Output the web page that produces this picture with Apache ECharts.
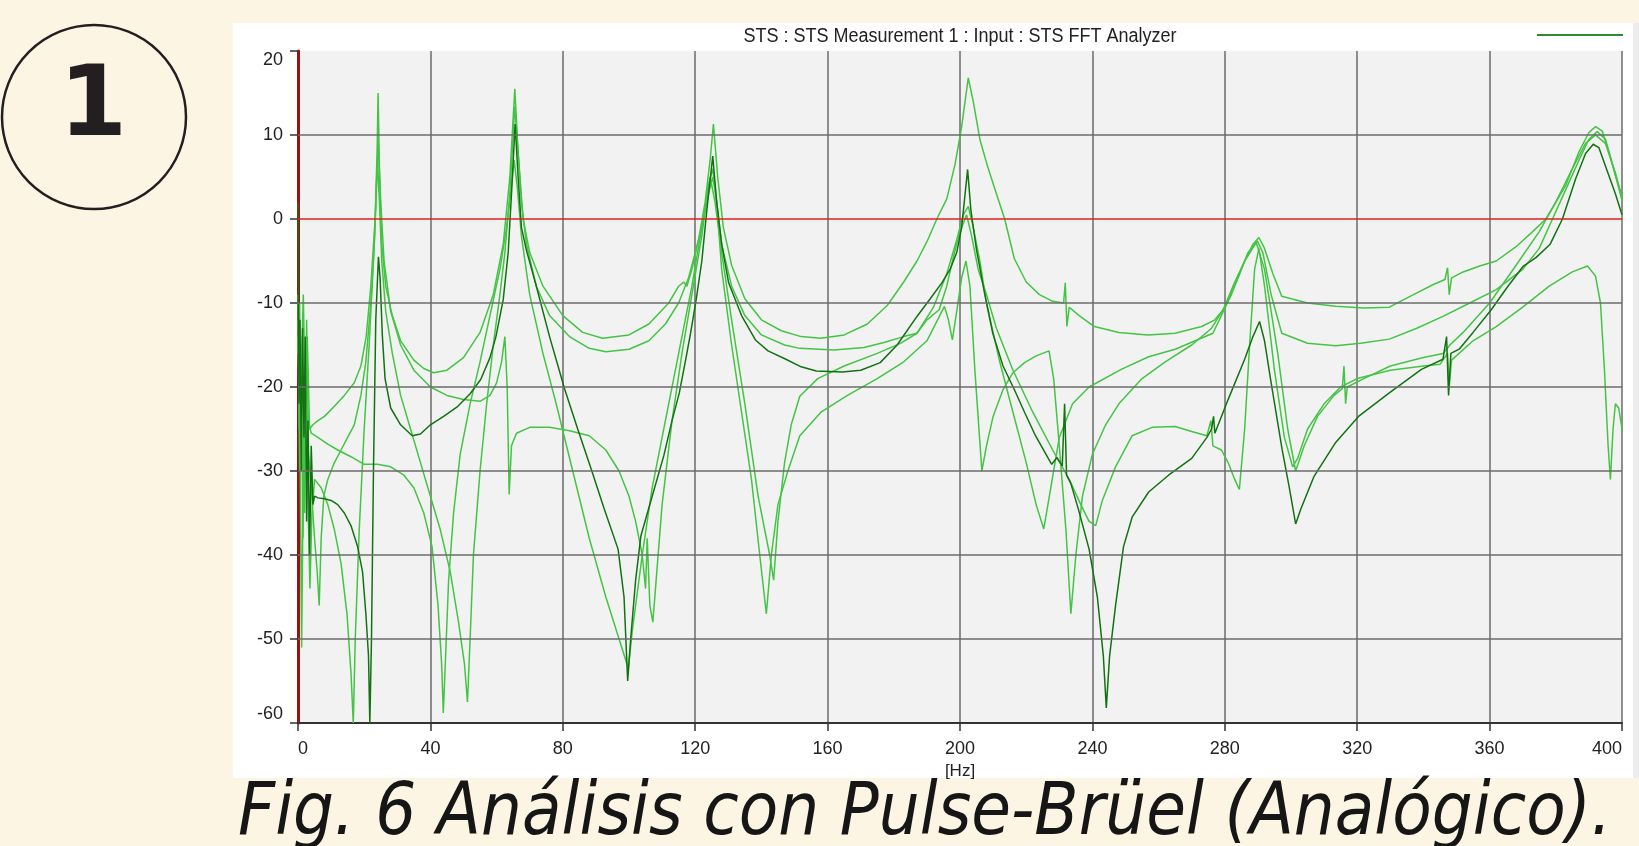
<!DOCTYPE html>
<html>
<head>
<meta charset="utf-8">
<script src="https://cdn.jsdelivr.net/npm/echarts/dist/echarts.min.js"></script>
<style>
html,body{margin:0;padding:0;background:#fdf5e3;}
#chart{width:1639px;height:846px;}
</style>
</head>
<body>
<div id="chart"></div>
<script>
const titleText = 'STS : STS Measurement 1 : Input : STS FFT Analyzer';
const captionText = 'Fig. 6 Análisis con Pulse-Brüel (Analógico).';
const badgeText = '1';
const xUnit = '[Hz]';
const hGridValues = [-50, -40, -30, -20, -10, 10];
const zeroLine = 0;

const curveA = [[0,-12],[0.5,-30],[1,-18],[1.6,-9],[2.2,-22],[2.8,-14],[3.5,-25],[4.5,-24.5],[6,-24],[8,-23.5],[11,-22.3],[14,-21],[17,-19.5],[19,-17.5],[20.6,-14],[22,-8],[23.3,0],[23.9,8],[24.2,15],[24.6,6],[25.3,-3],[26.5,-8],[28.5,-11.5],[31,-14.5],[35,-16.8],[38,-17.8],[41,-18.3],[45,-18],[50,-16.5],[55,-13.5],[59,-9],[62,-3],[64,5],[65.5,15.5],[66.5,8],[68,0],[70,-4],[74,-8],[80,-11.5],[86,-13.5],[92,-14.2],[100,-13.8],[106,-12.5],[112,-10],[115,-8],[116.5,-7.5],[117.5,-8],[119,-6],[121,-2.5],[123,2],[124.5,7],[125.5,11.3],[126.8,5],[128.5,-1],[131,-5.5],[135,-9.5],[140,-12],[146,-13.3],[152,-14],[158,-14.2],[165,-13.8],[172,-12.5],[178,-10.3],[183,-7.5],[187,-5],[190,-2.7],[193,0],[196,2.4],[198.5,6.5],[200.5,11],[202.5,16.8],[204,14],[206,9.5],[208.3,6.3],[211,3],[213.5,0],[216.4,-4.7],[220,-7.5],[224,-9],[228,-9.8],[231.3,-10],[231.8,-7.6],[232.3,-12.8],[233,-10.5],[236,-11.5],[240.6,-12.8],[248,-13.5],[256.8,-13.8],[265,-13.6],[273,-12.8],[277,-12],[279.5,-10.8],[283,-7.5],[286,-5],[288.5,-3],[290.3,-2.2],[292,-3.5],[294.5,-6.5],[297.2,-9.2],[305,-10],[313.5,-10.4],[322,-10.6],[329.7,-10.5],[337,-9],[343,-7.8],[346.5,-7.2],[347.3,-5.8],[347.8,-9],[348.5,-7],[352,-6.3],[357,-5.6],[362,-5],[368,-3.3],[373,-1.5],[377,0],[383,4],[387,8],[390,10.3],[392,11],[394,10.5],[396,8],[398,5.2],[400,2.7]];

const curveB = [[0,-9],[0.4,-25],[0.9,-15],[1.5,-38],[2,-20],[2.8,-30],[3.6,-44],[4.2,-35],[5,-31],[7,-32],[9,-34],[11,-37],[13,-41],[14.8,-47],[16,-54],[16.7,-60],[17.3,-50],[18.5,-37],[20,-25],[21.5,-15],[22.8,-5],[23.6,3],[24.2,9.5],[25,2],[26,-5],[28,-11],[31,-15],[35,-18],[40,-20],[45,-21],[50,-21.5],[55,-21.7],[58,-21],[60,-19.5],[61.5,-17],[62.5,-14],[63.2,-20],[63.8,-32.8],[64.5,-27],[66,-25.5],[70,-24.8],[76,-24.8],[82,-25.2],[88,-25.8],[93,-27.5],[97,-30],[100,-33],[102,-36],[104,-40],[105,-44],[105.5,-38],[106.3,-46],[107.2,-48],[108,-44],[110,-34],[113,-24],[116,-16],[119,-9],[122,-2],[124,4],[125.3,6],[126.5,2],[128,-6],[131,-15],[134,-23],[137,-31],[139.5,-40],[141.5,-47],[143,-40],[145,-34],[148,-30],[151.6,-25.8],[158,-23],[166,-21],[175,-19],[183,-17],[190,-14.5],[195.3,-10.4],[196.5,-12],[197.7,-14.4],[199,-11],[200.5,-7],[201.8,-5],[203,-8],[204.5,-18],[206.6,-30],[208,-27],[210,-23.5],[213,-20.3],[216,-18.3],[219.5,-17.1],[223,-16.3],[226.9,-15.7],[228.3,-19],[230,-27],[232,-37],[233.5,-47],[235,-40],[237,-33],[240,-28],[244,-24.5],[248,-22],[255,-19],[262,-17],[270,-15],[276,-13],[280,-10.5],[284,-7],[287,-4],[289.8,-2.6],[291.5,-4],[294,-9],[297.2,-13.6],[305,-14.8],[313.5,-15.1],[321,-14.8],[329.7,-14.3],[338,-13],[345.9,-11.6],[354,-10],[362,-8.4],[370,-6],[375,-3.5],[379,0],[383,3.5],[387,7],[390,9.5],[392.5,10.4],[395,9.5],[397.5,6],[400,2.2]];

const curveC = [[0,-14],[0.5,-22],[1.1,-51],[1.6,-30],[2.2,-18],[3,-24],[4,-25.5],[6,-26],[9,-26.8],[12,-27.5],[16,-28.3],[20,-29.2],[24,-29.2],[28,-29.5],[32,-30.5],[35,-32],[38,-35],[40.5,-39],[42.3,-46],[43.4,-53],[43.9,-58.8],[44.6,-52],[45.5,-43],[47,-35],[49,-28],[52,-22],[55,-17],[58,-11.5],[61,-6],[63,-1],[64.5,4],[65.3,7],[66.2,4],[67.5,-2],[70,-9],[74,-16],[78,-22],[83,-30],[88,-38],[93,-45],[97,-50],[99.8,-53.5],[101,-49],[104,-40],[107,-32],[111,-24],[115,-16],[119,-8],[122,-1],[124.5,5],[126,2],[128,-4],[131,-12],[135,-22],[139,-33],[142.5,-40],[143.7,-43],[145,-36],[147,-29],[149,-24.5],[151.6,-21.1],[157,-19],[165,-17.5],[175,-16],[182,-14.8],[187,-13.6],[192,-10.5],[196,-6.5],[199,-2.5],[201,0.5],[202.5,1.5],[204,-1],[206,-5],[208,-10],[212,-17],[216,-23],[220,-29],[223,-34],[225.3,-36.9],[227,-33],[230,-26],[234,-22],[239,-20],[248.7,-17.9],[257,-16.4],[265,-15.5],[276.4,-13.6],[282,-9],[286,-5],[289.5,-2.8],[292,-6],[296,-16],[299,-25],[301.4,-30],[304,-27],[308,-23.5],[313,-21],[315.5,-20.2],[316,-17.5],[316.5,-22],[317,-20],[322,-19],[330,-17.5],[340,-16.5],[346,-16],[348,-15],[352,-13.5],[360,-10],[368,-5.5],[375,-1.5],[380,2],[385,6],[389,9],[392,10],[395,9],[398,5.5],[400,2.5]];

const curveE = [[0,-16],[0.5,-10],[0.8,-30],[1.3,-14],[2,-35],[2.6,-12],[3.2,-28],[4,-32],[5,-38],[5.8,-42],[6.4,-46],[7,-38],[7.8,-33],[9,-31],[11,-29],[13,-27.5],[15,-26],[17,-24.5],[19,-21],[20.5,-17],[22,-10],[23.2,-2],[24,7],[24.6,2],[25.3,-5],[26.5,-11],[28.5,-16],[31,-21],[34,-25],[37,-29],[40,-33],[43,-37],[46,-42],[48.5,-48],[50.3,-53],[51.2,-57.5],[52,-50],[53,-40],[55,-30],[57,-22],[59,-15],[61,-9],[62.5,-4],[64,3],[65.5,13.4],[66.5,8],[67.5,2],[69,-3],[72,-8],[76,-11.5],[82,-14],[88,-15.4],[93,-15.8],[100,-15.5],[106,-14.5],[111,-12.5],[115,-10],[118,-7],[120,-4],[122,-1],[124,3],[125.3,5],[126.5,2],[128,-3],[131,-8],[135,-11.5],[140,-13.8],[147,-15],[151.6,-15.4],[162,-15.6],[171,-15.3],[177,-14.7],[183,-14],[187,-13.6],[190,-12],[193.7,-10.8],[196,-8],[198,-4.5],[200,-1.5],[202,0.5],[203.5,-2],[205.5,-6],[208,-9],[211,-13],[216,-18],[222,-23],[228,-27.5],[233,-31],[236.5,-34],[239,-36],[241,-36.5],[243,-33.5],[247,-29.5],[252,-25.8],[258,-24.8],[265,-24.7],[270,-25.3],[274.6,-25.8],[275.8,-24],[276.4,-27],[279,-27.5],[281,-29],[283,-31],[284.4,-32.2],[286,-25],[287.5,-15],[289,-6],[290.3,-3.5],[292,-8],[295,-18],[298,-26],[300.5,-29.5],[302,-28.5],[305,-25],[310,-22],[315,-20],[320,-19],[330,-18],[340,-17.5],[345,-17.3],[347.3,-16],[347.8,-20],[348.5,-16.8],[355,-14.5],[362,-12.8],[370,-10.5],[378,-8],[385,-6.3],[389.6,-5.6],[392,-6.8],[393.5,-10],[394.7,-18],[395.8,-27],[396.5,-31],[397.3,-25],[398,-22],[399,-22.5],[400,-25]];

const curveD = [[0,2],[0.3,-22],[0.6,-12],[1,-30],[1.4,-13],[1.8,-26],[2.2,-14],[2.6,-36],[3,-24],[3.5,-40],[4,-27],[4.5,-34],[5,-33],[6,-33.2],[8,-33.3],[10,-33.5],[12,-34],[14,-35],[16,-36.5],[18,-39],[19.5,-42],[20.5,-47],[21.3,-52],[21.7,-60],[22.2,-50],[22.8,-30],[23.5,-12],[24.3,-4.5],[24.8,-7],[25.5,-14],[26.3,-19],[28,-22.5],[31,-24.5],[34.5,-25.8],[37,-25.6],[40,-24.5],[44,-23.5],[48.3,-22.3],[52,-20.8],[55.2,-19.1],[58,-16.5],[59.8,-14],[62,-9.6],[63.5,-4],[64.5,3],[65.6,11.3],[66.5,5],[67.5,-1],[69,-3.7],[72,-8],[76,-14],[80.6,-20.3],[84.5,-25],[88.6,-29.8],[92.5,-34.5],[96.7,-39.3],[98.5,-45],[99.6,-55],[100.5,-50],[102,-43],[103.6,-37.7],[107,-33],[110.5,-28.2],[113,-24],[115.2,-20.7],[117,-17],[118.6,-13.6],[120.3,-9.6],[122,-5],[123.5,1],[125.3,7.5],[126.5,2],[128,-3],[130.1,-7.6],[134,-11.5],[138.2,-14.4],[142,-15.7],[147.4,-16.7],[152,-17.6],[156.6,-18.1],[164.5,-18.2],[170,-18],[175.9,-17.1],[181,-15],[187,-11.6],[191,-9.5],[194.5,-7.6],[197,-6],[199,-4],[200.5,-1],[202.3,5.9],[203.3,1],[205,-3.7],[207.5,-9],[209.9,-13.6],[213,-17.5],[216.4,-20.3],[219.5,-23],[222.8,-25.8],[227.7,-29.2],[229.3,-28.4],[230.9,-29.4],[231.6,-22],[232.2,-30.5],[233.5,-31.5],[235.8,-34.6],[239,-39.3],[241.5,-45],[243.3,-52],[244.2,-58.2],[245.2,-52],[247,-46],[249.4,-39],[252,-35.5],[257,-32.5],[263,-30.5],[270,-28.5],[274.6,-26],[276,-25],[276.6,-23.5],[277,-25.5],[281,-21.5],[286,-16.7],[288.5,-14],[290.5,-12.2],[292,-14.5],[294,-19.5],[297.3,-27.4],[299.5,-32],[301.4,-36.3],[303,-34.5],[307,-30.6],[313.5,-26.6],[320.4,-23.5],[329.7,-20.7],[339.4,-17.9],[345.9,-16.7],[347,-14],[347.6,-21],[348.3,-16],[350.8,-15.5],[355,-13.5],[360.5,-10.8],[365,-8.3],[370.2,-5.6],[374,-4.6],[378.3,-3],[382,0],[386,4.8],[389,7.8],[391.3,8.9],[393,8.5],[396,5.2],[398,3],[400,0.5]];

const LIGHT = '#44c444';
const DARK = '#127212';
const GRIDC = '#6b6b6b';
const FONT = '"Liberation Sans", Arial, sans-serif';

const chart = echarts.init(document.getElementById('chart'), null, {renderer: 'canvas'});

function curve(name, data, color, z) {
  return {
    name: name, type: 'line', data: data, showSymbol: false, symbol: 'none',
    z: z, silent: true, animation: false,
    lineStyle: {color: color, width: 1.5},
    itemStyle: {color: color}
  };
}

const option = {
  backgroundColor: '#fdf5e3',
  animation: false,
  grid: {left: 298, top: 51, right: 17, bottom: 123, show: true, backgroundColor: '#f2f2f2', borderWidth: 0},
  xAxis: {
    type: 'value', min: 0, max: 400, interval: 40,
    axisLine: {show: true, onZero: false, lineStyle: {color: '#333', width: 2}},
    axisTick: {show: true, length: 8, lineStyle: {color: '#333', width: 1.5}},
    axisLabel: {margin: 17, color: '#222', fontSize: 18, fontFamily: FONT, alignMinLabel: 'left', alignMaxLabel: 'right'},
    splitLine: {show: true, lineStyle: {color: GRIDC, width: 1.5}},
    name: xUnit, nameLocation: 'middle', nameGap: 36,
    nameTextStyle: {color: '#222', fontSize: 17, fontFamily: FONT}
  },
  yAxis: {
    type: 'value', min: -60, max: 20, interval: 10,
    axisLine: {show: true, onZero: false, lineStyle: {color: '#9b1010', width: 3}},
    axisTick: {show: true, length: 8, lineStyle: {color: '#333', width: 1.5}},
    axisLabel: {margin: 15, color: '#222', fontSize: 18, fontFamily: FONT, verticalAlignMinLabel: 'bottom', verticalAlignMaxLabel: 'top'},
    splitLine: {show: false}
  },
  graphic: [
    {type: 'rect', z: -10, silent: true, shape: {x: 233, y: 23, width: 1400, height: 755}, style: {fill: '#ffffff'}},
    {type: 'rect', z: -10, silent: true, shape: {x: 1633, y: 23, width: 6, height: 755}, style: {fill: '#ececec'}},
    {type: 'text', x: 960, y: 36, scaleX: 0.9, silent: true,
     style: {text: titleText, font: '20px ' + FONT, fill: '#222', align: 'center', verticalAlign: 'middle'}},
    {type: 'line', silent: true, shape: {x1: 1537, y1: 35, x2: 1623, y2: 35}, style: {stroke: '#2e8b2e', lineWidth: 2}},
    {type: 'circle', silent: true, shape: {cx: 94, cy: 117, r: 92}, style: {fill: 'none', stroke: '#231f20', lineWidth: 2.5}},
    {type: 'text', x: 93, y: 110, silent: true,
     style: {text: badgeText, font: 'bold 98px "DejaVu Sans", sans-serif', fill: '#231f20', align: 'center', verticalAlign: 'middle'}},
    {type: 'text', x: 238, y: 815, scaleX: 0.885, silent: true,
     style: {text: captionText, font: 'italic 73px "DejaVu Sans", sans-serif', fill: '#161616', align: 'left', verticalAlign: 'middle'}}
  ],
  series: [
    {
      name: 'grid', type: 'line', data: [], z: 1, silent: true, animation: false,
      markLine: {
        silent: true, symbol: ['none', 'none'], animation: false,
        label: {show: false},
        lineStyle: {color: GRIDC, width: 1.5, type: 'solid'},
        data: hGridValues.map(v => ({yAxis: v})).concat([{yAxis: zeroLine, lineStyle: {color: '#e0201e', width: 1.6, type: 'solid'}}])
      }
    },
    curve('Medida 1', curveA, LIGHT, 3),
    curve('Medida 2', curveB, LIGHT, 3),
    curve('Medida 3', curveC, LIGHT, 3),
    curve('Medida 4', curveE, LIGHT, 3),
    curve('Medida 5', curveD, DARK, 4)
  ]
};
chart.setOption(option);
</script>
</body>
</html>
